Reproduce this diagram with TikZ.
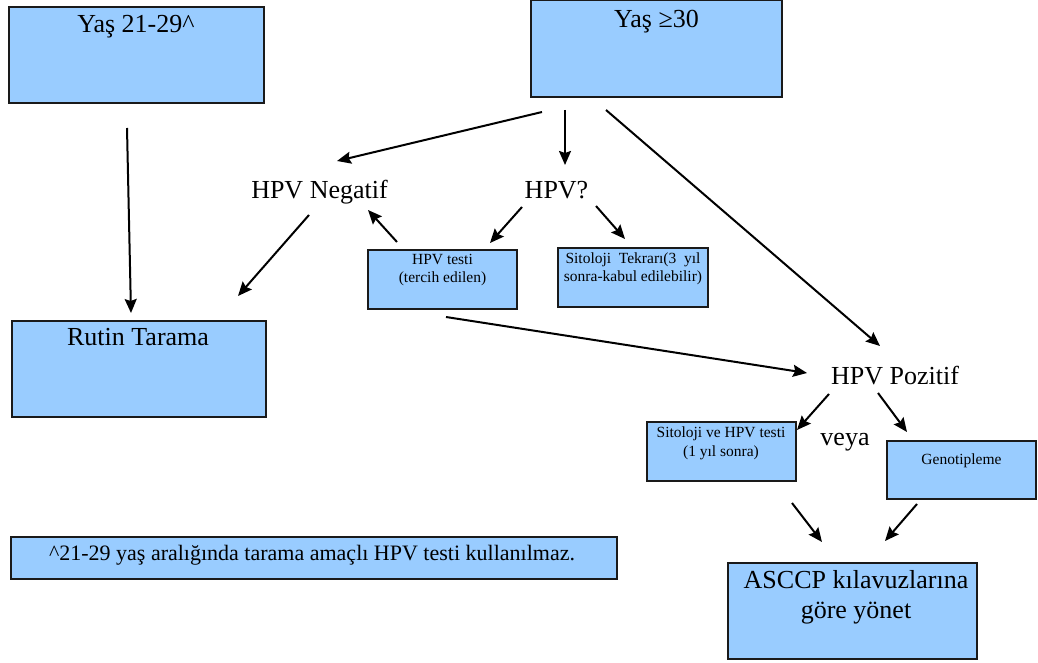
\documentclass[tikz,border=0pt]{standalone}
\usepackage{fontspec}
\setmainfont{Liberation Serif}
\usetikzlibrary{arrows.meta}
\definecolor{boxfill}{HTML}{99CCFF}
\definecolor{boxline}{HTML}{1A1A1A}
\begin{document}
\begin{tikzpicture}[x=1pt,y=-1pt,
  box/.style={draw=boxline, line width=1.5pt, fill=boxfill, anchor=north west, inner sep=0pt, outer sep=0pt},
  big/.style={font=\fontsize{26}{30}\selectfont, inner sep=0pt, anchor=base, align=center},
  mid/.style={font=\fontsize{22}{26}\selectfont, inner sep=0pt, anchor=base},
  small/.style={font=\fontsize{15.5}{18}\selectfont, inner sep=0pt, anchor=base, align=center},
  arr/.style={line width=2pt, draw=black, -{Stealth[length=14pt,width=12pt,inset=2pt]}},
]
\useasboundingbox (0,0) rectangle (1038,663);

% boxes
\node[box, minimum width=255pt, minimum height=96pt] (young)  at (9,7) {};
\node[box, minimum width=251pt, minimum height=97pt] (older)  at (531,0) {};
\node[box, minimum width=254pt, minimum height=96pt] (rutin)  at (12,321) {};
\node[box, minimum width=149pt, minimum height=59pt] (hpvtest) at (368,250) {};
\node[box, minimum width=150pt, minimum height=59pt] (sitrep) at (558,248) {};
\node[box, minimum width=149pt, minimum height=59pt] (sithpv) at (647,422) {};
\node[box, minimum width=149pt, minimum height=58pt] (geno)   at (887,441) {};
\node[box, minimum width=606pt, minimum height=42pt] (note)   at (11,537) {};
\node[box, minimum width=249pt, minimum height=96pt] (asccp)  at (728,563) {};

% box texts (multi-line nodes sit on the baseline of their last line)
\node[big] (youngT) at (136,33) {Yaş 21-29\textasciicircum};
\node[big] (olderT) at (656.5,28) {Yaş ≥30};
\node[big] (rutinT) at (138,345) {Rutin Tarama};
\node[small] (hpvtestT) at (442.5,282) {HPV testi\\(tercih edilen)};
\node[small] (sitrepT) at (633,281) {Sitoloji\ \ Tekrarı(3\ \ yıl\\sonra-kabul edilebilir)};
\node[small, font=\fontsize{15.5}{19}\selectfont] (sithpvT) at (721,456) {Sitoloji ve HPV testi\\(1 yıl sonra)};
\node[small] (genoT) at (961.5,464) {Genotipleme};
\node[mid] (noteT) at (312,560) {\textasciicircum21-29 yaş aralığında tarama amaçlı HPV testi kullanılmaz.};
\node[big] (asccpT) at (856,618) {ASCCP kılavuzlarına\\göre yönet};

% free labels
\node[big] (neg) at (319.5,199) {HPV Negatif};
\node[big] (unk) at (556.5,199) {HPV?};
\node[big] (pos) at (895,384) {HPV Pozitif};
\node[big] (veya) at (845,445) {veya};

% connector end points
\coordinate (young-out) at (127,128);   \coordinate (rutin-in) at (131,313);
\coordinate (older-o1) at (542,112);    \coordinate (neg-in) at (337,161);
\coordinate (older-o2) at (565,110);    \coordinate (unk-in) at (565,165);
\coordinate (older-o3) at (606,110);    \coordinate (pos-in1) at (880,346);
\coordinate (neg-out) at (309,215);     \coordinate (rutin-in2) at (238,296);
\coordinate (hpvtest-o1) at (397,242);  \coordinate (neg-in2) at (368,210);
\coordinate (unk-o1) at (522,207);      \coordinate (hpvtest-in) at (490,243);
\coordinate (unk-o2) at (596,206);      \coordinate (sitrep-in) at (625,239);
\coordinate (hpvtest-o2) at (446,317);  \coordinate (pos-in2) at (807,373);
\coordinate (pos-o1) at (829,394);      \coordinate (sithpv-in) at (797,430);
\coordinate (pos-o2) at (878,393);      \coordinate (geno-in) at (907,432);
\coordinate (sithpv-out) at (792,503);  \coordinate (asccp-in1) at (822,542);
\coordinate (geno-out) at (917,504);    \coordinate (asccp-in2) at (885,541);

% connectors
\draw[arr] (young-out) -- (rutin-in);
\draw[arr] (older-o1) -- (neg-in);
\draw[arr] (older-o2) -- (unk-in);
\draw[arr] (older-o3) -- (pos-in1);
\draw[arr] (neg-out) -- (rutin-in2);
\draw[arr] (hpvtest-o1) -- (neg-in2);
\draw[arr] (unk-o1) -- (hpvtest-in);
\draw[arr] (unk-o2) -- (sitrep-in);
\draw[arr] (hpvtest-o2) -- (pos-in2);
\draw[arr] (pos-o1) -- (sithpv-in);
\draw[arr] (pos-o2) -- (geno-in);
\draw[arr] (sithpv-out) -- (asccp-in1);
\draw[arr] (geno-out) -- (asccp-in2);
\end{tikzpicture}
\end{document}
